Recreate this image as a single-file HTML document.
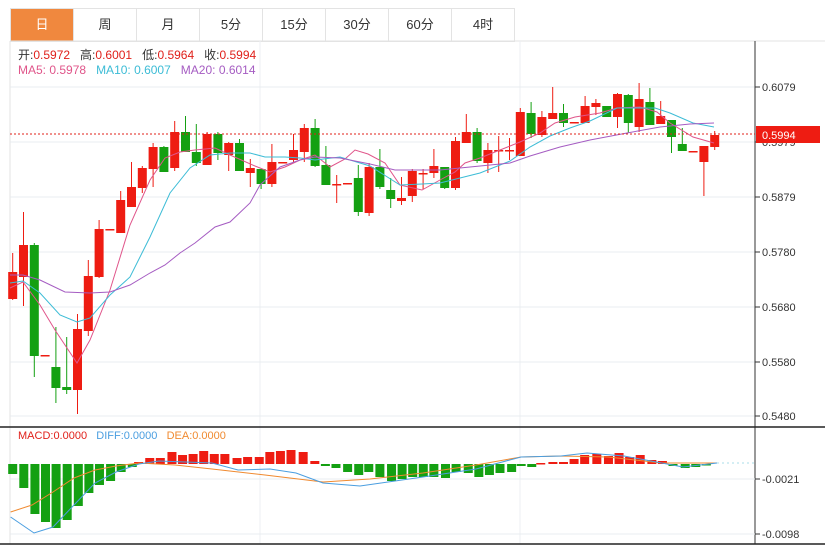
<!DOCTYPE html>
<html><head><meta charset="utf-8"><style>
body{margin:0;width:825px;height:547px;background:#fff;overflow:hidden;font-family:"Liberation Sans","Noto Sans CJK SC",sans-serif}
#tabs{position:absolute;left:10px;top:8px;height:32px;display:flex;border:1px solid #e3e3e3;border-right:none}
#tabs div{width:62px;border-right:1px solid #e3e3e3;text-align:center;line-height:32px;font-size:13px;color:#333}
#tabs div.on{background:#f0883e;color:#fff}
.info{position:absolute;left:18px;font-size:12px}
</style></head><body>
<div id="tabs"><div class="on">日</div><div>周</div><div>月</div><div>5分</div><div>15分</div><div>30分</div><div>60分</div><div>4时</div></div>
<svg id="s" width="825" height="547" style="position:absolute;left:0;top:0"></svg>
<div class="info" style="top:46px;color:#333">开:<span style="color:#e0201a">0.5972</span>&nbsp;&nbsp;&nbsp;高:<span style="color:#e0201a">0.6001</span>&nbsp;&nbsp;&nbsp;低:<span style="color:#e0201a">0.5964</span>&nbsp;&nbsp;&nbsp;收:<span style="color:#e0201a">0.5994</span></div>
<div class="info" style="top:63px"><span style="color:#e0558a">MA5: 0.5978</span>&nbsp;&nbsp;&nbsp;<span style="color:#3cbcd6">MA10: 0.6007</span>&nbsp;&nbsp;&nbsp;<span style="color:#a55cc2">MA20: 0.6014</span></div>
<div class="info" style="top:430px;font-size:11px"><span style="color:#e0201a">MACD:0.0000</span>&nbsp;&nbsp;&nbsp;<span style="color:#4a9ee0">DIFF:0.0000</span>&nbsp;&nbsp;&nbsp;<span style="color:#f08a30">DEA:0.0000</span></div>
<script>
var s='';
function L(x1,y1,x2,y2,c,w,d){s+='<line x1="'+x1+'" y1="'+y1+'" x2="'+x2+'" y2="'+y2+'" stroke="'+c+'" stroke-width="'+(w||1)+'"'+(d?' stroke-dasharray="'+d+'"':'')+'/>';}
function T(x,y,t,c){s+='<text x="'+x+'" y="'+y+'" font-size="11" fill="'+(c||'#333')+'" font-family="Liberation Sans,sans-serif">'+t+'</text>';}
// frame
L(10,41,10,544,'#e3e3e3');L(10,41,825,41,'#e3e3e3');
L(260,41,260,544,'#eceff3');L(520,41,520,544,'#eceff3');
[[87,'0.6079'],[142,'0.5979'],[197,'0.5879'],[252,'0.5780'],[307,'0.5680'],[362,'0.5580'],[416,'0.5480']].forEach(function(g){L(10,g[0],755,g[0],'#e8ecf0');L(755,g[0],760,g[0],'#333');T(762,g[0]+4,g[1]);});
L(755,41,755,544,'#333');
L(0,427,825,427,'#222',1.5);L(0,544,825,544,'#222',1.5);
[[479,'-0.0021'],[534,'-0.0098']].forEach(function(g){L(10,g[0],755,g[0],'#e8ecf0');L(755,g[0],760,g[0],'#333');T(762,g[0]+4,g[1]);});
// candles [color, bodyTop, bodyBot, wickTop, wickBot]
var C=[['r',272,299,253,300],['r',245,277,212,306],['g',245,356,243,377],['r',355,355,355,355],['g',367,388,327,403],['g',387,390,337,394],['r',329,390,314,414],['r',276,331,260,336],['r',229,277,220,278],['r',229,229,229,229],['r',200,233,191,233],['r',187,207,162,207],['r',168,188,166,193],['r',147,169,143,187],['g',147,172,146,172],['r',132,168,121,171],['g',132,152,116,152],['g',152,163,124,166],['r',134,165,132,165],['g',134,153,132,160],['r',143,155,142,171],['g',143,171,139,171],['r',168,173,159,187],['g',169,184,169,189],['r',162,184,144,187],['r',162,162,162,162],['r',150,160,134,162],['r',128,152,124,162],['g',128,166,119,167],['g',165,185,146,185],['r',184,184,175,203],['r',183,183,183,183],['g',178,212,165,216],['r',167,213,163,216],['g',167,187,149,189],['g',190,199,178,208],['r',198,201,177,205],['r',171,196,169,202],['r',173,173,169,189],['r',166,173,149,178],['g',167,188,167,189],['r',141,188,137,190],['r',132,143,114,143],['g',132,161,128,163],['r',150,163,143,173],['r',150,150,136,172],['r',150,150,138,160],['r',112,156,108,156],['g',113,134,102,138],['r',117,135,111,137],['r',113,119,87,119],['g',113,123,104,127],['r',122,122,122,122],['r',106,123,96,123],['r',103,107,99,115],['g',106,117,106,117],['r',94,117,93,128],['g',95,123,94,133],['r',99,127,83,132],['g',102,125,88,125],['r',116,124,101,124],['g',120,137,120,153],['g',144,151,128,151],['r',151,151,151,151],['r',146,162,146,196],['r',135,147,131,150]];
C.forEach(function(c,i){var x=12.7+10.8*i,col=c[0]=='r'?'#ee1c12':'#14a012';
L(x,c[3],x,c[4],col);var h=Math.max(c[2]-c[1],1.5);
s+='<rect x="'+(x-4.5)+'" y="'+c[1]+'" width="9" height="'+h+'" fill="'+col+'"/>';});
function P(pts,c,w){s+='<polyline fill="none" stroke="'+c+'" stroke-width="'+(w||1)+'" points="'+pts.map(function(p){return p.join(',')}).join(' ')+'"/>';}
P([[10,288],[23,282],[40,305],[55,330],[77,363],[90,340],[110,290],[130,225],[150,180],[165,158],[180,152],[195,150],[215,148],[230,155],[255,166],[270,172],[285,167],[300,160],[315,155],[330,167],[345,159],[355,150],[368,154],[385,163],[400,185],[422,190],[440,180],[455,172],[465,163],[480,158],[500,150],[520,142],[540,133],[555,123],[575,117],[600,113],[617,108],[640,107],[657,112],[670,123],[693,137],[714,143]],'#e0558a');
P([[10,283],[23,281],[40,293],[60,315],[77,322],[90,318],[110,295],[130,277],[150,237],[170,193],[190,168],[210,155],[230,153],[250,153],[265,157],[285,157],[300,158],[315,160],[340,157],[370,166],[400,185],[422,184],[440,183],[460,178],[480,173],[510,161],[530,147],[550,136],[570,128],[590,121],[617,108],[655,108],[670,113],[693,123],[714,127]],'#3cbcd6');
P([[10,275],[23,275],[40,280],[65,292],[90,293],[110,292],[130,285],[150,273],[165,265],[180,253],[195,243],[215,227],[230,222],[250,203],[260,185],[280,167],[300,160],[315,157],[340,158],[370,164],[395,170],[440,170],[470,167],[510,163],[530,156],[560,147],[590,140],[627,133],[660,127],[690,124],[714,123]],'#a55cc2');
L(10,134,755,134,'#e0201a',1,'2,2');
s+='<rect x="756" y="126" width="64" height="17" fill="#ee1c12"/>';T(762,139,'0.5994','#fff');
// MACD bars
var Z=464;
var B=[[24,474],[45,488],[66,514],[86,522],[106,528],[127,520],[148,506],[168,493],[188,485],[209,481],[229,472],[250,467],
[262,462],[283,458],[303,458],[325,452],[345,455],[365,454],[385,451],[405,454],[425,454],[448,458],[468,457],[490,457],[510,452],[530,451],[550,450],[573,452],[595,461],
[615,466],[635,468],[657,472],[678,475],[697,472],[718,477],[740,481],[760,479],[780,477],[800,477],[820,477],[842,478],[862,472],[885,473],[905,477],[925,475],[945,473],[967,472],[985,466],[1005,467],
[1022,463],[1045,462],[1065,462],[1085,459],[1105,455],[1128,454],[1150,456],[1170,453],[1190,457],[1210,455],[1232,460],[1252,461],
[1272,466],[1295,468],[1315,467],[1335,465]];
B.forEach(function(b){var x=b[0]/1.89,y=b[1],col=y<Z?'#ee1c12':'#14a012';
s+='<rect x="'+(x-4.5)+'" y="'+Math.min(y,Z)+'" width="9" height="'+Math.max(Math.abs(y-Z),1.5)+'" fill="'+col+'"/>';});
P([[10.6,512],[32,505],[53,492],[74,478],[95,470],[116,466],[139,463],[175,465],[212,469],[265,475],[323,482],[370,479],[423,473],[476,465],[521,457],[561,456],[608,457],[661,463],[717,463]],'#f08a30');
P([[10.6,517],[34,533],[53,527],[74,505],[95,483],[116,472],[139,464],[159,461],[212,463],[238,470],[270,469],[296,473],[323,483],[360,486],[381,483],[423,477],[476,469],[521,457],[561,456],[587,453],[624,456],[651,461],[683,467],[717,463]],'#4a9ee0');
L(717,463,755,463,'#a8dce8',1,'2,3');
document.getElementById('s').innerHTML=s;
</script>
</body></html>
